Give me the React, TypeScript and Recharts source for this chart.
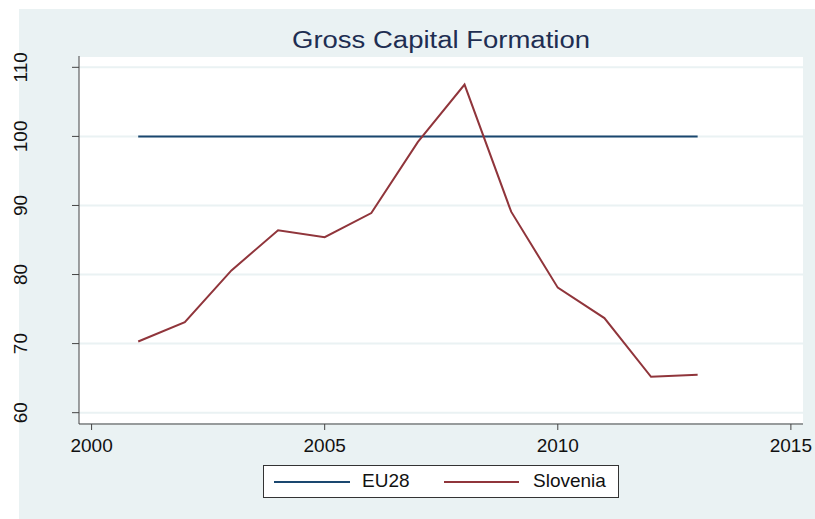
import React from "react";
import { LineChart, Line, XAxis, YAxis, CartesianGrid } from "recharts";

const YEARS = [2001, 2002, 2003, 2004, 2005, 2006, 2007, 2008, 2009, 2010, 2011, 2012, 2013];
const EU28 = [100, 100, 100, 100, 100, 100, 100, 100, 100, 100, 100, 100, 100];
const SLOVENIA = [70.3, 73.1, 80.6, 86.4, 85.4, 88.9, 99.2, 107.5, 89.1, 78.1, 73.7, 65.2, 65.5];
const X_TICKS = [2000, 2005, 2010, 2015];
const Y_TICKS = [60, 70, 80, 90, 100, 110];

const NAVY = "#1a476f";
const MAROON = "#90353b";
const BG = "#eaf2f3";
const FONT = "'Liberation Sans', Arial, sans-serif";

const data = YEARS.map((year, i) => ({ year, eu28: EU28[i], slovenia: SLOVENIA[i] }));

function YTick(props: any) {
  const { y, payload } = props;
  const tx = 27.5;
  return (
    <text
      x={tx}
      y={y}
      transform={`rotate(-90, ${tx}, ${y})`}
      textAnchor="middle"
      fontSize={19}
      fontFamily={FONT}
      fill="#111"
    >
      {payload.value}
    </text>
  );
}

export default function App() {
  return (
    <div style={{ position: "absolute", left: 0, top: 0, width: 815, height: 519, background: "#fff" }}>
      <div style={{ position: "absolute", left: 19, top: 9, width: 796, height: 510, background: BG }} />
      <svg width={815} height={60} style={{ position: "absolute", left: 0, top: 0 }}>
        <text
          x={441}
          y={48}
          textAnchor="middle"
          fontSize={23}
          fontFamily={FONT}
          fill="#1e2e52"
          textLength={298}
          lengthAdjust="spacingAndGlyphs"
        >
          Gross Capital Formation
        </text>
      </svg>
      <div style={{ position: "absolute", left: 0, top: 0 }}>
        <LineChart width={815} height={519} data={data} margin={{ top: 56, right: 12, bottom: 0, left: 0 }}>
          <CartesianGrid vertical={false} stroke={BG} strokeWidth={2} fill="#fff" />
          <XAxis
            dataKey="year"
            type="number"
            domain={[1999.73, 2015.26]}
            ticks={X_TICKS}
            allowDataOverflow
            height={95}
            tickSize={6}
            tickMargin={9}
            stroke="#444"
            tick={{ fontSize: 19, fontFamily: FONT, fill: "#111" }}
          />
          <YAxis
            type="number"
            domain={[58.36, 111.64]}
            ticks={Y_TICKS}
            allowDataOverflow
            width={79}
            tickSize={7}
            stroke="#444"
            tick={<YTick />}
          />
          <Line dataKey="eu28" stroke={NAVY} strokeWidth={2} dot={false} isAnimationActive={false} />
          <Line dataKey="slovenia" stroke={MAROON} strokeWidth={2} dot={false} isAnimationActive={false} />
        </LineChart>
      </div>
      <div
        style={{
          position: "absolute",
          left: 263,
          top: 465,
          width: 354,
          height: 31,
          border: "1px solid #333",
          background: "#fff",
          fontFamily: FONT,
          fontSize: 19,
          color: "#111",
        }}
      >
        <div style={{ position: "absolute", left: 10, top: 15, width: 76, height: 2, background: NAVY }} />
        <div style={{ position: "absolute", left: 98, top: 4, lineHeight: "22px" }}>EU28</div>
        <div style={{ position: "absolute", left: 180, top: 15, width: 75, height: 2, background: MAROON }} />
        <div style={{ position: "absolute", left: 269, top: 4, lineHeight: "22px" }}>Slovenia</div>
      </div>
    </div>
  );
}
